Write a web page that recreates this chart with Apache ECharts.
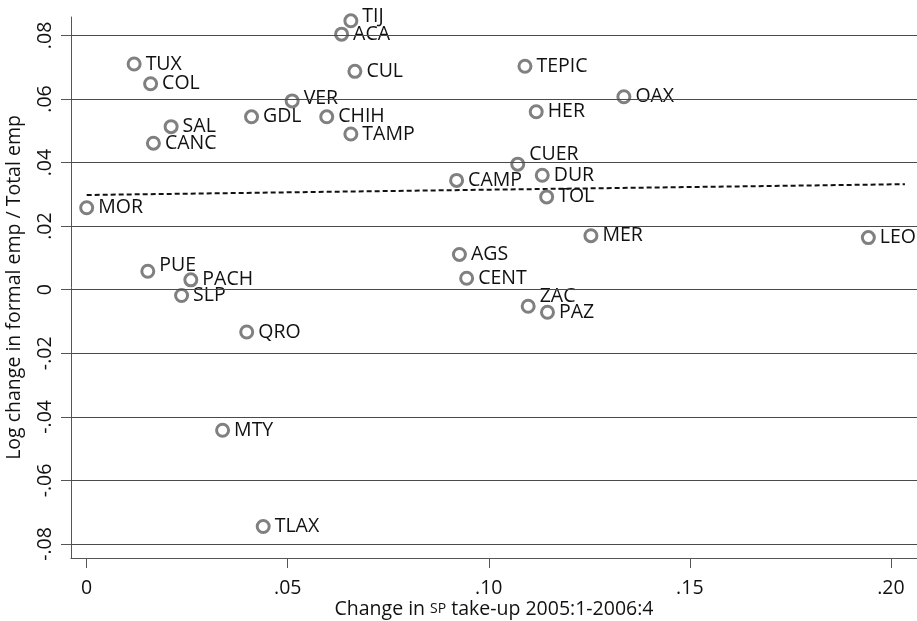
<!DOCTYPE html>
<html>
<head>
<meta charset="utf-8">
<script src="https://cdn.jsdelivr.net/npm/echarts@6/dist/echarts.min.js"></script>
<style>html,body{margin:0;padding:0;background:#fff}#c{width:917px;height:621px}</style>
</head>
<body>
<div id="c"></div>
<script>
// ---- data ----
var names = ["TIJ","ACA","TUX","COL","CUL","TEPIC","OAX","VER","GDL","CHIH","HER","SAL","TAMP","CANC","CUER","DUR","CAMP","TOL","MOR","MER","LEO","AGS","PUE","PACH","CENT","SLP","ZAC","PAZ","QRO","MTY","TLAX"];
var xVals = [0.0657,0.0634,0.0118,0.0159,0.0667,0.1090,0.1336,0.0511,0.0410,0.0597,0.1118,0.0210,0.0657,0.0166,0.1072,0.1133,0.0920,0.1144,0.0000,0.1254,0.1944,0.0927,0.0152,0.0259,0.0945,0.0236,0.1098,0.1146,0.0398,0.0338,0.0439];
var yVals = [0.0846,0.0804,0.0710,0.0648,0.0687,0.0703,0.0607,0.0594,0.0544,0.0544,0.0560,0.0513,0.0490,0.0461,0.0395,0.0360,0.0344,0.0292,0.0258,0.0170,0.0164,0.0111,0.0058,0.0031,0.0036,-0.0018,-0.0052,-0.0071,-0.0133,-0.0442,-0.0745];
var fitX = [0.0, 0.2035];
var fitY = [0.0298, 0.0332];
var xTickVals = [0, 0.05, 0.10, 0.15, 0.20];
var xTickLabels = ["0", ".05", ".10", ".15", ".20"];
var yTickVals = [-0.08, -0.06, -0.04, -0.02, 0, 0.02, 0.04, 0.06, 0.08];
var yTickLabels = ["-.08", "-.06", "-.04", "-.02", "0", ".02", ".04", ".06", ".08"];

// label lift (pixels) for labels placed above-right
var labelLift = {TIJ: 4, VER: 2, PUE: 6, CUER: 10, ZAC: 10};

var FONT = "Open Sans";
var FS = 19.5;

function lookup(vals, labels, v) {
  for (var i = 0; i < vals.length; i++) if (Math.abs(vals[i] - v) < 1e-9) return labels[i];
  return "";
}

var pts = names.map(function (n, i) {
  var o = { name: n, value: [xVals[i], yVals[i]] };
  if (labelLift[n]) o.label = { offset: [0, -labelLift[n]] };
  return o;
});

var chart = echarts.init(document.getElementById('c'), null, { renderer: 'canvas' });
chart.setOption({
  animation: false,
  backgroundColor: '#fff',
  grid: { left: 71, right: 0, top: 17, bottom: 63, containLabel: false, outerBoundsMode: 'none' },
  xAxis: {
    type: 'value', min: -0.0039, max: 0.2065,
    splitLine: { show: false },
    axisLine: { show: true, onZero: false, lineStyle: { color: '#555', width: 1 } },
    axisTick: { show: true, customValues: xTickVals, length: 10, inside: false, lineStyle: { color: '#555' } },
    axisLabel: { customValues: xTickVals, margin: 20, color: '#111', fontFamily: FONT, fontSize: FS,
      formatter: function (v) { return lookup(xTickVals, xTickLabels, v); } },
    name: 'Change in {sc|SP} take-up 2005:1-2006:4',
    nameLocation: 'middle', nameGap: 41, nameMoveOverlap: false,
    nameTextStyle: { color: '#111', fontFamily: FONT, fontSize: FS,
      rich: { sc: { fontFamily: FONT, fontSize: 14, color: '#111' } } }
  },
  yAxis: {
    type: 'value', min: -0.0844, max: 0.0858,
    splitLine: { show: false },
    axisLine: { show: true, onZero: false, lineStyle: { color: '#555', width: 1 } },
    axisTick: { show: true, customValues: yTickVals, length: 10, inside: false, lineStyle: { color: '#555' } },
    axisLabel: { customValues: yTickVals, rotate: 90, margin: 16, color: '#111', fontFamily: FONT, fontSize: FS,
      formatter: function (v) { return lookup(yTickVals, yTickLabels, v); } },
    name: 'Log change in formal emp / Total emp',
    nameLocation: 'middle', nameGap: 47, nameRotate: 90, nameMoveOverlap: false,
    nameTextStyle: { color: '#111', fontFamily: FONT, fontSize: FS }
  },
  series: [
    {
      type: 'line', silent: true, symbol: 'none', z: 1,
      data: [],
      markLine: {
        silent: true, symbol: ['none', 'none'], label: { show: false },
        lineStyle: { color: '#4a4a4a', width: 1, type: 'solid' },
        data: yTickVals.map(function (v) { return { yAxis: v }; })
      }
    },
    {
      type: 'line', silent: true, symbol: 'none', z: 2,
      data: fitX.map(function (x, i) { return [x, fitY[i]]; }),
      lineStyle: { color: '#111', width: 2, type: [5, 3] }
    },
    {
      type: 'scatter', z: 3,
      symbol: 'circle', symbolSize: 12,
      itemStyle: { color: '#fff', borderColor: '#808080', borderWidth: 3, opacity: 1 },
      label: { show: true, position: 'right', distance: 4, formatter: '{b}',
        color: '#111', fontFamily: FONT, fontSize: FS },
      data: pts
    }
  ]
});
</script>
</body>
</html>
